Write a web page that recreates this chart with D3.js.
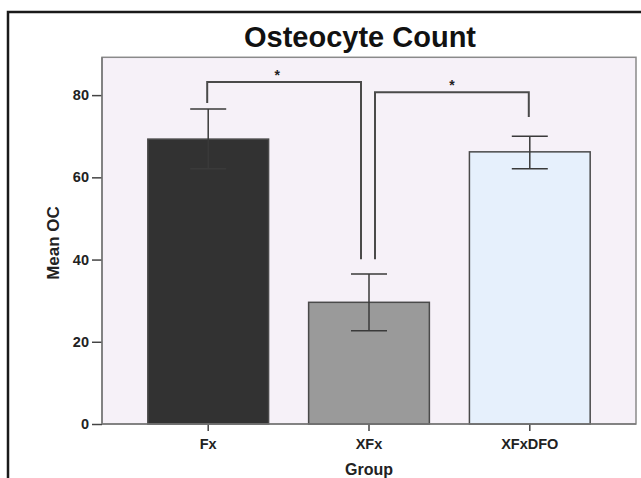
<!DOCTYPE html>
<html><head><meta charset="utf-8">
<script src="https://cdn.jsdelivr.net/npm/d3@7"></script>
<style>body{margin:0;background:#fff;}svg{display:block;font-family:Arial,"Liberation Sans",Helvetica,sans-serif;}</style>
</head><body><svg id="c" width="641" height="478"></svg>
<script>
const categories = ["Fx", "XFx", "XFxDFO"];
const meanValues = [69.3, 29.6, 66.2];
const errLow = [62.1, 22.7, 62.1];
const errHigh = [76.6, 36.5, 70.0];
const yTicks = [0, 20, 40, 60, 80];
const barColors = ["#323232", "#9a9a9a", "#e6f0fc"];
// significance brackets
const brackets = [
  {from: "Fx", to: "XFx", level: 83.2, leftEnd: 78.1, rightEnd: 40.1, dxL: -1, dxR: -8, starDx: -7},
  {from: "XFx", to: "XFxDFO", level: 80.7, leftEnd: 40.1, rightEnd: 74.7, dxL: 6, dxR: -1, starDx: 0}
];

const svg = d3.select("#c");
const L = 102, R = 636, T = 57.3, B = 424;

// outer frame
svg.append("rect").attr("x", 8).attr("y", 12).attr("width", 700).attr("height", 600)
  .attr("fill", "#fff").attr("stroke", "#1a1a1a").attr("stroke-width", 2.5);

const x = d3.scaleBand().domain(categories).range([L, R]).paddingInner(0.249).paddingOuter(0.285);
const y = d3.scaleLinear().domain([0, 89.2]).range([B, T]);

svg.append("rect").attr("x", L).attr("y", T).attr("width", R - L).attr("height", B - T)
  .attr("fill", "#f6f1f8").attr("stroke", "#8a8a8a").attr("stroke-width", 1.5);

// bars
svg.selectAll("rect.bar").data(categories).enter().append("rect").attr("class", "bar")
  .attr("x", d => x(d)).attr("width", x.bandwidth())
  .attr("y", (d, i) => y(meanValues[i])).attr("height", (d, i) => B - y(meanValues[i]))
  .attr("fill", (d, i) => barColors[i]).attr("stroke", "#4a4a4a").attr("stroke-width", 1.5);

// error bars
const cap = 18;
categories.forEach((c, i) => {
  const cx = x(c) + x.bandwidth() / 2;
  const g = svg.append("g").attr("stroke", "#3a3a3a").attr("stroke-width", 1.5);
  g.append("line").attr("x1", cx).attr("x2", cx).attr("y1", y(errLow[i])).attr("y2", y(errHigh[i]));
  g.append("line").attr("x1", cx - cap).attr("x2", cx + cap).attr("y1", y(errLow[i])).attr("y2", y(errLow[i]));
  g.append("line").attr("x1", cx - cap).attr("x2", cx + cap).attr("y1", y(errHigh[i])).attr("y2", y(errHigh[i]));
});

// brackets
brackets.forEach(b => {
  const x1 = x(b.from) + x.bandwidth() / 2 + b.dxL;
  const x2 = x(b.to) + x.bandwidth() / 2 + b.dxR;
  const p = d3.path();
  p.moveTo(x1, y(b.leftEnd)); p.lineTo(x1, y(b.level)); p.lineTo(x2, y(b.level)); p.lineTo(x2, y(b.rightEnd));
  svg.append("path").attr("d", p.toString()).attr("fill", "none").attr("stroke", "#4a4a4a").attr("stroke-width", 2);
  svg.append("text").attr("x", (x1 + x2) / 2 + b.starDx).attr("y", y(b.level) - 2)
    .attr("text-anchor", "middle").attr("font-size", 14).attr("font-weight", "bold").attr("fill", "#222").text("*");
});

// axes
const yAxis = d3.axisLeft(y).tickValues(yTicks).tickSize(10).tickPadding(3).tickFormat(d3.format("d"));
const yg = svg.append("g").attr("transform", `translate(${L},0)`).call(yAxis);
yg.select(".domain").remove();
yg.selectAll("line").attr("stroke", "#444").attr("stroke-width", 1.5);
yg.selectAll("text").attr("font-size", 14.5).attr("font-weight", "bold").attr("fill", "#222")
  .attr("font-family", "Arial, 'Liberation Sans', sans-serif");

const xAxis = d3.axisBottom(x).tickSize(7).tickPadding(8);
const xg = svg.append("g").attr("transform", `translate(0,${B})`).call(xAxis);
xg.select(".domain").remove();
xg.selectAll("line").attr("stroke", "#444").attr("stroke-width", 1.5);
xg.selectAll("text").attr("font-size", 14.5).attr("font-weight", "bold").attr("fill", "#222")
  .attr("font-family", "Arial, 'Liberation Sans', sans-serif");

// axis lines
svg.append("line").attr("x1", L).attr("x2", R).attr("y1", B).attr("y2", B).attr("stroke", "#777").attr("stroke-width", 1.5);
svg.append("line").attr("x1", L).attr("x2", L).attr("y1", T).attr("y2", B).attr("stroke", "#777").attr("stroke-width", 1.5);

// titles
svg.append("text").attr("x", 360).attr("y", 47).attr("text-anchor", "middle")
  .attr("font-size", 29).attr("font-weight", "bold").attr("fill", "#111").text("Osteocyte Count");
svg.append("text").attr("transform", "translate(59,243) rotate(-90)").attr("text-anchor", "middle")
  .attr("font-size", 17).attr("font-weight", "bold").attr("fill", "#222").text("Mean OC");
svg.append("text").attr("x", 369).attr("y", 475).attr("text-anchor", "middle")
  .attr("font-size", 16).attr("font-weight", "bold").attr("fill", "#222").text("Group");
</script></body></html>
